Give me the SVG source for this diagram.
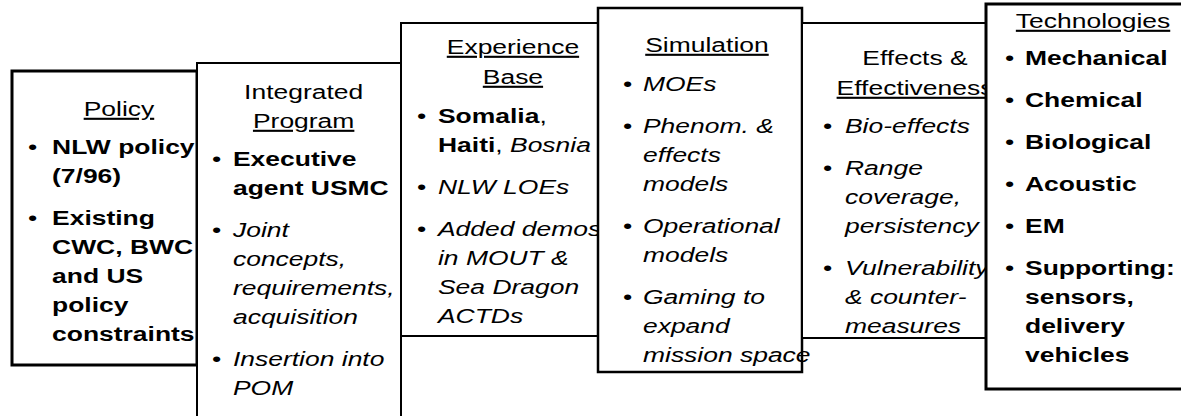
<svg xmlns="http://www.w3.org/2000/svg" width="1181" height="416" viewBox="0 0 1181 416">
<style>
.box{fill:#fff;stroke:#000;stroke-width:2}
.thick{stroke-width:3}
text{font-family:"Liberation Sans",Arial,Helvetica,sans-serif;font-size:21px;fill:#000}
.b{font-weight:bold}
.i{font-style:italic}
.u{text-decoration:underline}
.h{text-anchor:middle}
</style>
<rect width="1181" height="416" fill="#fff"/>
<g id="connectors"/>
<g id="policy">
<rect class="box thick" x="12" y="71" width="185" height="294"/>
<g transform="scale(1.26,1)">
<text class="h u" x="94.4" y="116">Policy</text>
<text x="22.2" y="154">•</text>
<text class="b" x="41.3" y="154">NLW policy</text>
<text class="b" x="41.3" y="183">(7/96)</text>
<text x="22.2" y="225">•</text>
<text class="b" x="41.3" y="225">Existing</text>
<text class="b" x="41.3" y="254">CWC, BWC</text>
<text class="b" x="41.3" y="283">and US</text>
<text class="b" x="41.3" y="312">policy</text>
<text class="b" x="41.3" y="341">constraints</text>
</g>
</g>
<g id="integrated-program">
<rect class="box" x="197" y="63" width="204" height="380"/>
<g transform="scale(1.26,1)">
<text class="h" x="241" y="99">Integrated</text>
<text class="h u" x="241" y="128">Program</text>
<text x="168.3" y="166">•</text>
<text class="b" x="184.9" y="166">Executive</text>
<text class="b" x="184.9" y="195">agent USMC</text>
<text x="168.3" y="237">•</text>
<text class="i" x="184.9" y="237">Joint</text>
<text class="i" x="184.9" y="266">concepts,</text>
<text class="i" x="184.9" y="295">requirements,</text>
<text class="i" x="184.9" y="324">acquisition</text>
<text x="168.3" y="366">•</text>
<text class="i" x="184.9" y="366">Insertion into</text>
<text class="i" x="184.9" y="395">POM</text>
</g>
</g>
<g id="experience-base">
<rect class="box" x="401" y="23" width="198" height="313"/>
<g transform="scale(1.26,1)">
<text class="h u" x="407.1" y="54">Experience</text>
<text class="h u" x="407.1" y="84">Base</text>
<text x="331" y="123">•</text>
<text x="347.6" y="123"><tspan class="b">Somalia</tspan>,</text>
<text x="347.6" y="152"><tspan class="b">Haiti</tspan>, <tspan class="i">Bosnia</tspan></text>
<text x="331" y="194">•</text>
<text class="i" x="347.6" y="194">NLW LOEs</text>
<text x="331" y="236">•</text>
<text class="i" x="347.6" y="236">Added demos</text>
<text class="i" x="347.6" y="265">in MOUT &amp;</text>
<text class="i" x="347.6" y="294">Sea Dragon</text>
<text class="i" x="347.6" y="323">ACTDs</text>
</g>
</g>
<g id="simulation">
<rect class="box" x="598" y="8" width="204" height="364" style="stroke-width:2.5"/>
<g transform="scale(1.26,1)">
<text class="h u" x="561.1" y="52">Simulation</text>
<text x="494.4" y="91">•</text>
<text class="i" x="510.3" y="91">MOEs</text>
<text x="494.4" y="133">•</text>
<text class="i" x="510.3" y="133">Phenom. &amp;</text>
<text class="i" x="510.3" y="162">effects</text>
<text class="i" x="510.3" y="191">models</text>
<text x="494.4" y="233">•</text>
<text class="i" x="510.3" y="233">Operational</text>
<text class="i" x="510.3" y="262">models</text>
<text x="494.4" y="304">•</text>
<text class="i" x="510.3" y="304">Gaming to</text>
<text class="i" x="510.3" y="333">expand</text>
<text class="i" x="510.3" y="362">mission space</text>
</g>
</g>
<g id="effects">
<rect class="box" x="802" y="23" width="185" height="315"/>
<g transform="scale(1.26,1)">
<text class="h" x="726.2" y="65">Effects &amp;</text>
<text class="h u" x="726.2" y="95">Effectiveness</text>
<text x="653.2" y="133">•</text>
<text class="i" x="670.6" y="133">Bio-effects</text>
<text x="653.2" y="175">•</text>
<text class="i" x="670.6" y="175">Range</text>
<text class="i" x="670.6" y="204">coverage,</text>
<text class="i" x="670.6" y="233">persistency</text>
<text x="653.2" y="275">•</text>
<text class="i" x="670.6" y="275">Vulnerability</text>
<text class="i" x="670.6" y="304">&amp; counter-</text>
<text class="i" x="670.6" y="333">measures</text>
</g>
</g>
<g id="technologies">
<rect class="box thick" x="986" y="4" width="210" height="385"/>
<g transform="scale(1.26,1)">
<text class="h u" x="867.5" y="28">Technologies</text>
<text x="797.6" y="65">•</text>
<text class="b" x="813.5" y="65">Mechanical</text>
<text x="797.6" y="107">•</text>
<text class="b" x="813.5" y="107">Chemical</text>
<text x="797.6" y="149">•</text>
<text class="b" x="813.5" y="149">Biological</text>
<text x="797.6" y="191">•</text>
<text class="b" x="813.5" y="191">Acoustic</text>
<text x="797.6" y="233">•</text>
<text class="b" x="813.5" y="233">EM</text>
<text x="797.6" y="275">•</text>
<text class="b" x="813.5" y="275">Supporting:</text>
<text class="b" x="813.5" y="304">sensors,</text>
<text class="b" x="813.5" y="333">delivery</text>
<text class="b" x="813.5" y="362">vehicles</text>
</g>
</g>
</svg>
